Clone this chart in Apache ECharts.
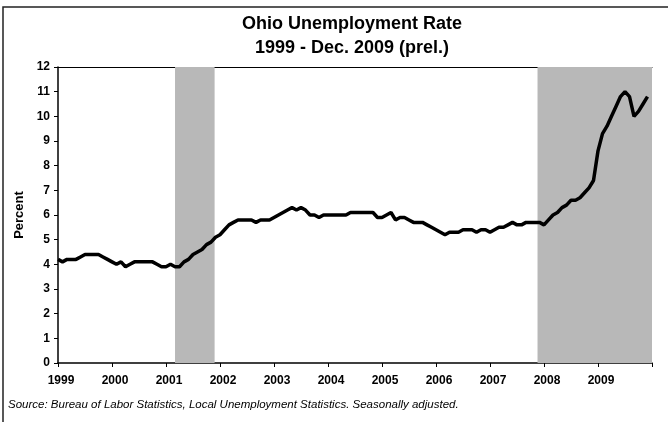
<!DOCTYPE html>
<html><head><meta charset="utf-8">
<script src="https://cdn.jsdelivr.net/npm/echarts@6/dist/echarts.min.js"></script>
<style>html,body{margin:0;padding:0;background:#fff}#c{width:668px;height:422px}</style>
</head><body><div id="c"></div>
<script>
const startYear = 1999;
const yearTicks = [1999,2000,2001,2002,2003,2004,2005,2006,2007,2008,2009];
// monthly rate, Jan 1999 .. Dec 2009
const rates = [
 4.2,4.1,4.2,4.2,4.2,4.3,4.4,4.4,4.4,4.4,4.3,4.2,
 4.1,4.0,4.1,3.9,4.0,4.1,4.1,4.1,4.1,4.1,4.0,3.9,
 3.9,4.0,3.9,3.9,4.1,4.2,4.4,4.5,4.6,4.8,4.9,5.1,
 5.2,5.4,5.6,5.7,5.8,5.8,5.8,5.8,5.7,5.8,5.8,5.8,
 5.9,6.0,6.1,6.2,6.3,6.2,6.3,6.2,6.0,6.0,5.9,6.0,
 6.0,6.0,6.0,6.0,6.0,6.1,6.1,6.1,6.1,6.1,6.1,5.9,
 5.9,6.0,6.1,5.8,5.9,5.9,5.8,5.7,5.7,5.7,5.6,5.5,
 5.4,5.3,5.2,5.3,5.3,5.3,5.4,5.4,5.4,5.3,5.4,5.4,
 5.3,5.4,5.5,5.5,5.6,5.7,5.6,5.6,5.7,5.7,5.7,5.7,
 5.6,5.8,6.0,6.1,6.3,6.4,6.6,6.6,6.7,6.9,7.1,7.4,
 8.6,9.3,9.6,10.0,10.4,10.8,11.0,10.8,10.0,10.2,10.5,10.8
];
const recessions = [[2001.167, 2001.9], [2007.88, 2010]];

const lineData = rates.map((v, i) => [startYear + i / 12, v]);

const chart = echarts.init(document.getElementById('c'));
const F = 'Liberation Sans, Arial, sans-serif';
chart.setOption({
  animation: false,
  backgroundColor: '#fff',
  textStyle: {fontFamily: F},
  title: {
    text: 'Ohio Unemployment Rate\n1999 - Dec. 2009 (prel.)',
    left: 347, top: 7, textAlign: 'center',
    textStyle: {fontFamily: F, fontSize: 18, fontWeight: 'bold', color: '#000', lineHeight: 24}
  },
  grid: {left: 58, right: 16, top: 67, bottom: 59},
  xAxis: [{
    type: 'value', min: 1999, max: 2010, interval: 1,
    axisLine: {lineStyle: {color: '#000', width: 1.5}},
    axisTick: {show: true, length: 4, lineStyle: {color: '#000'}},
    splitLine: {show: false},
    axisLabel: {
      margin: 12, fontFamily: F, fontSize: 12, fontWeight: 'bold', color: '#000',
      padding: [0, 0, 0, 6],
      formatter: v => yearTicks.includes(Math.round(v)) ? String(Math.round(v)) : ''
    }
  }, {
    type: 'value', min: 1999, max: 2010, position: 'top',
    axisLine: {show: true, lineStyle: {color: '#000', width: 1}},
    axisTick: {show: false}, axisLabel: {show: false}, splitLine: {show: false}
  }],
  yAxis: {
    type: 'value', min: 0, max: 12, interval: 1,
    name: 'Percent', nameLocation: 'middle', nameGap: 30,
    nameTextStyle: {fontFamily: F, fontSize: 13, fontWeight: 'bold', color: '#000'},
    axisLine: {show: true, lineStyle: {color: '#000', width: 1.5}},
    axisTick: {show: true, length: 4, lineStyle: {color: '#000'}},
    splitLine: {show: false},
    axisLabel: {fontFamily: F, fontSize: 12, fontWeight: 'bold', color: '#000', margin: 8}
  },
  graphic: [
    {type: 'polyline', shape: {points: [[3, 422], [3, 7], [668, 7]]}, style: {fill: 'none', stroke: '#222', lineWidth: 1.5}, silent: true},
    {type: 'text', left: 8, top: 399, style: {text: 'Source: Bureau of Labor Statistics, Local Unemployment Statistics. Seasonally adjusted.', font: 'italic 11.5px ' + F, fill: '#000'}}
  ],
  series: [{
    type: 'line', data: lineData, showSymbol: false, smooth: false,
    lineStyle: {color: '#000', width: 3.5},
    markArea: {
      silent: true,
      itemStyle: {color: '#b8b8b8'},
      data: recessions.map(r => [{xAxis: r[0]}, {xAxis: r[1]}])
    },
    z: 3
  }]
});
</script></body></html>
